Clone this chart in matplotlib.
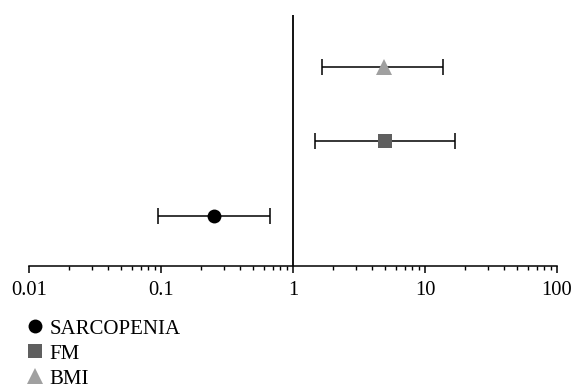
import matplotlib
matplotlib.use("Agg")
import matplotlib.pyplot as plt
from matplotlib.ticker import LogLocator, FixedLocator, FixedFormatter, NullFormatter

plt.rcParams['font.family'] = ['Liberation Serif', 'DejaVu Serif']

labels = ["SARCOPENIA", "FM", "BMI"]
estimates = [0.25, 5.0, 4.85]
lower = [0.095, 1.47, 1.67]
upper = [0.67, 16.9, 13.8]
rows = [1, 2, 3]
markers = ["o", "s", "^"]
colors = ["#000000", "#5f5f5f", "#a0a0a0"]
sizes = [10, 10, 12]
tick_vals = [0.01, 0.1, 1, 10, 100]
tick_labels = ["0.01", "0.1", "1", "10", "100"]

fig = plt.figure(figsize=(5.74, 3.89), dpi=100)
ax = fig.add_axes([29/574, 1-266/389, (557-29)/574, (266-15)/389])

handles = []
for lab, est, lo, hi, r, m, c, s in zip(labels, estimates, lower, upper, rows, markers, colors, sizes):
    ax.errorbar([est], [r], xerr=[[est - lo], [hi - est]], fmt='none',
                ecolor='black', elinewidth=1.1, capsize=6, capthick=1.1, zorder=2)
    h, = ax.plot([est], [r], linestyle='none', marker=m, color=c, markersize=s,
                 markeredgewidth=0, label=lab, zorder=3)
    handles.append(h)

ax.axvline(1, color='black', linewidth=1.3, zorder=1)

ax.set_xscale('log')
ax.set_xlim(0.01, 100)
ax.set_ylim(0.333, 3.69)
ax.xaxis.set_major_locator(FixedLocator(tick_vals))
ax.xaxis.set_major_formatter(FixedFormatter(tick_labels))
ax.xaxis.set_minor_locator(LogLocator(base=10, subs=[2, 3, 4, 5, 6, 7, 8, 9]))
ax.xaxis.set_minor_formatter(NullFormatter())
ax.tick_params(axis='x', which='major', direction='out', length=5, width=1.1, labelsize=14.8, pad=6)
ax.tick_params(axis='x', which='minor', direction='out', length=3, width=1.0)
ax.set_yticks([])
for sp in ['left', 'right', 'top']:
    ax.spines[sp].set_visible(False)
ax.spines['bottom'].set_linewidth(1.1)

fig.legend(handles=handles, labels=labels, loc='upper left',
           bbox_to_anchor=(0.045, 1-319/389), frameon=False, fontsize=15,
           handlelength=0.9, handletextpad=0.25, labelspacing=0.26, borderpad=0,
           borderaxespad=0)

fig.savefig("out.png", dpi=100)
